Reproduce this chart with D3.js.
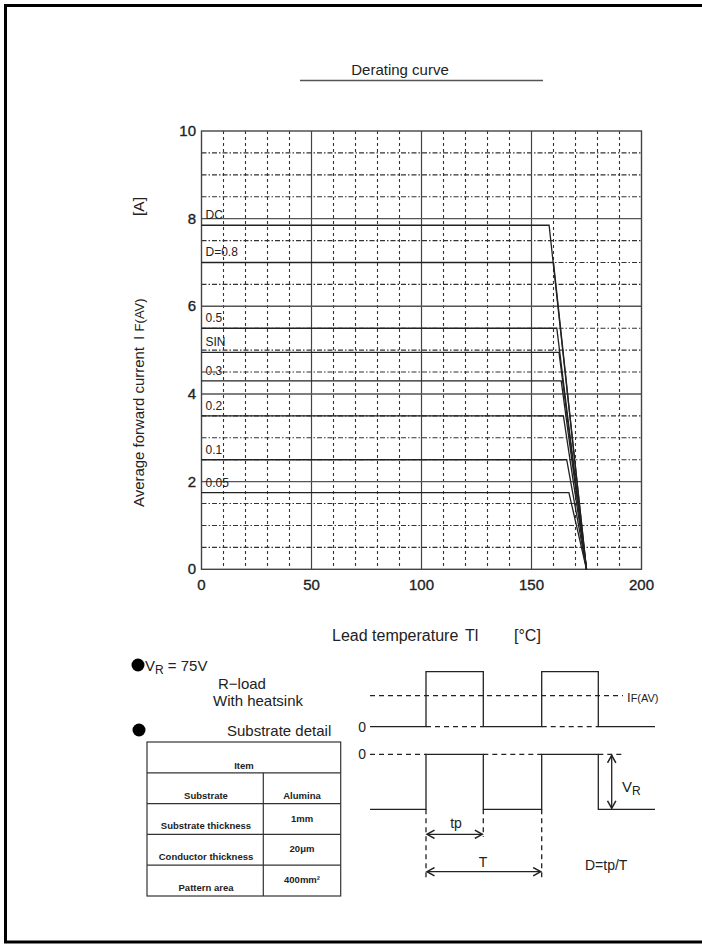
<!DOCTYPE html>
<html>
<head>
<meta charset="utf-8">
<script src="https://cdn.jsdelivr.net/npm/d3@7"></script>
<style>
    body { margin: 0; background: #fff; }
    svg { display: block; font-family: "Liberation Sans", Arial, sans-serif; }
</style>
</head>
<body>
<div id="chart"></div>
<script>
    // curve data
    const curveNames = ["DC", "D=0.8", "0.5", "SIN", "0.3", "0.2", "0.1", "0.05"];
    const flatCurrent = [7.85, 7.0, 5.5, 4.95, 4.3, 3.5, 2.5, 1.75];
    const kneeTemp = [158, 160, 161.5, 162.5, 163.5, 164.5, 166, 167];
    const zeroTemp = 175;

    const xTicks = [0, 50, 100, 150, 200];
    const yTicks = [0, 2, 4, 6, 8, 10];
    const xMinor = d3.range(10, 200, 10).filter((v) => v % 50 != 0);
    const yMinor = d3.range(0.5, 10, 0.5).filter((v) => v % 2 != 0);
    const xMajor = [50, 100, 150];
    const yMajor = [2, 4, 6, 8];

    const tableRows = [
        ["Substrate", "Alumina"],
        ["Substrate thickness", "1mm"],
        ["Conductor thickness", "20\u03bcm"],
        ["Pattern area", "400mm\u00b2"],
    ];

    const width = 702;
    const height = 944;

    const svg = d3.select("#chart").append("svg").attr("width", width).attr("height", height);

    // outer page frame
    svg.append("rect")
        .attr("x", 5.5).attr("y", 5.5)
        .attr("width", 720).attr("height", 936.5)
        .attr("fill", "none").attr("stroke", "#000").attr("stroke-width", 3);

    // title
    svg.append("text").attr("x", 400).attr("y", 75).attr("text-anchor", "middle")
        .attr("font-size", 15).attr("fill", "#222").text("Derating curve");
    svg.append("line").attr("x1", 300).attr("x2", 543).attr("y1", 80.5).attr("y2", 80.5)
        .attr("stroke", "#555").attr("stroke-width", 1.5);

    const x = d3.scaleLinear().domain([0, 200]).range([201.5, 641.5]);
    const y = d3.scaleLinear().domain([0, 10]).range([569.3, 131]);

    const grid = svg.append("g");

    // minor grid
    grid.selectAll(".vminor").data(xMinor).join("line")
        .attr("x1", (d) => x(d)).attr("x2", (d) => x(d))
        .attr("y1", y(10)).attr("y2", y(0))
        .attr("stroke", "#333").attr("stroke-width", 1.1)
        .attr("stroke-dasharray", "3,3");
    grid.selectAll(".hminor").data(yMinor).join("line")
        .attr("x1", x(0)).attr("x2", x(200))
        .attr("y1", (d) => y(d)).attr("y2", (d) => y(d))
        .attr("stroke", "#333").attr("stroke-width", 1.1)
        .attr("stroke-dasharray", "5,2,1.5,2");

    // major grid
    grid.selectAll(".vmajor").data(xMajor).join("line")
        .attr("x1", (d) => x(d)).attr("x2", (d) => x(d))
        .attr("y1", y(10)).attr("y2", y(0))
        .attr("stroke", "#444").attr("stroke-width", 1.2);
    grid.selectAll(".hmajor").data(yMajor).join("line")
        .attr("x1", x(0)).attr("x2", x(200))
        .attr("y1", (d) => y(d)).attr("y2", (d) => y(d))
        .attr("stroke", "#555").attr("stroke-width", 1.4);

    grid.append("rect")
        .attr("x", x(0)).attr("y", y(10))
        .attr("width", x(200) - x(0)).attr("height", y(0) - y(10))
        .attr("fill", "none").attr("stroke", "#444").attr("stroke-width", 1.4);

    // curves
    const line = d3.line().x((d) => x(d[0])).y((d) => y(d[1]));
    const curves = curveNames.map((name, i) => ({
        name: name,
        points: [[0, flatCurrent[i]], [kneeTemp[i], flatCurrent[i]], [zeroTemp, 0]],
    }));

    svg.append("g").selectAll("path").data(curves).join("path")
        .attr("d", (d) => line(d.points))
        .attr("fill", "none").attr("stroke", "#222").attr("stroke-width", 1.3);

    svg.append("g").selectAll("text").data(curves).join("text")
        .attr("x", x(0) + 4).attr("y", (d) => y(d.points[0][1]) - 6)
        .attr("font-size", 12).attr("fill", "#222")
        .text((d) => d.name);

    // tick labels
    svg.append("g").attr("stroke", "#222").attr("stroke-width", 0.35)
        .selectAll("text").data(yTicks).join("text")
        .attr("x", 196).attr("y", (d) => y(d) + 5)
        .attr("text-anchor", "end").attr("font-size", 15).attr("fill", "#222")
        .text((d) => d);
    svg.append("g").attr("stroke", "#222").attr("stroke-width", 0.35)
        .selectAll("text").data(xTicks).join("text")
        .attr("x", (d) => x(d)).attr("y", 590)
        .attr("text-anchor", "middle").attr("font-size", 15).attr("fill", "#222")
        .text((d) => d);

    // axis titles
    const xTitle = svg.append("g").attr("font-size", 16).attr("fill", "#222");
    xTitle.append("text").attr("x", 332).attr("y", 641).text("Lead temperature");
    xTitle.append("text").attr("x", 465).attr("y", 641).text("Tl");
    xTitle.append("text").attr("x", 514).attr("y", 641).text("[\u00b0C]");

    const yTitle = svg.append("g").attr("font-size", 15.5).attr("fill", "#222")
        .attr("transform", "translate(144,0) rotate(-90)");
    yTitle.append("text").attr("x", -507).attr("y", 0)
        .attr("textLength", 160).attr("lengthAdjust", "spacingAndGlyphs")
        .text("Average forward current");
    const ifav = yTitle.append("text").attr("x", -340).attr("y", 0);
    ifav.append("tspan").text("I ");
    ifav.append("tspan").attr("font-size", 13).text("F(AV)");
    yTitle.append("text").attr("x", -216).attr("y", 0).text("[A]");

    // conditions
    const notes = svg.append("g").attr("font-size", 15).attr("fill", "#222");
    notes.append("circle").attr("cx", 138).attr("cy", 665).attr("r", 6.5).attr("fill", "#000");
    const vr = notes.append("text").attr("x", 145).attr("y", 671);
    vr.append("tspan").text("V");
    vr.append("tspan").attr("font-size", 12).attr("dy", 3).text("R");
    vr.append("tspan").attr("dy", -3).text(" = 75V");
    notes.append("text").attr("x", 218).attr("y", 689).text("R\u2212load");
    notes.append("text").attr("x", 213).attr("y", 706).text("With heatsink");
    notes.append("circle").attr("cx", 139).attr("cy", 730).attr("r", 6.5).attr("fill", "#000");
    notes.append("text").attr("x", 227).attr("y", 736).text("Substrate detail");

    // substrate table
    const tbl = svg.append("g").attr("font-size", 9.5).attr("font-weight", "bold").attr("fill", "#222");
    const tLeft = 147, tRight = 340.7, tMid = 263.3, tTop = 742, rowH = 30.8;
    tbl.append("rect").attr("x", tLeft).attr("y", tTop)
        .attr("width", tRight - tLeft).attr("height", rowH * 5)
        .attr("fill", "none").attr("stroke", "#333").attr("stroke-width", 1.2);
    tbl.selectAll(".rowline").data(tableRows).join("line")
        .attr("x1", tLeft).attr("x2", tRight)
        .attr("y1", (d, i) => tTop + rowH * (i + 1)).attr("y2", (d, i) => tTop + rowH * (i + 1))
        .attr("stroke", "#333").attr("stroke-width", 1.2);
    tbl.append("line").attr("x1", tMid).attr("x2", tMid)
        .attr("y1", tTop + rowH).attr("y2", tTop + rowH * 5)
        .attr("stroke", "#333").attr("stroke-width", 1.2);
    tbl.append("text").attr("x", 244).attr("y", tTop + 27).attr("text-anchor", "middle")
        .text("Item");
    tbl.selectAll(".left").data(tableRows).join("text")
        .attr("x", 206).attr("y", (d, i) => tTop + rowH * (i + 2) - 5)
        .attr("text-anchor", "middle").text((d) => d[0]);
    tbl.selectAll(".right").data(tableRows).join("text")
        .attr("x", 302).attr("y", (d, i) => (i == 0 ? tTop + rowH * 2 - 5 : tTop + rowH * (i + 1) + 18))
        .attr("text-anchor", "middle").text((d) => d[1]);

    // waveform sketch
    const wave = svg.append("g").attr("fill", "none").attr("stroke", "#222").attr("stroke-width", 1.3);
    const defs = svg.append("defs");
    defs.append("marker").attr("id", "arr").attr("viewBox", "-10 -6 12 12")
        .attr("markerWidth", 10).attr("markerHeight", 10).attr("orient", "auto-start-reverse")
        .attr("markerUnits", "userSpaceOnUse")
        .append("path").attr("d", "M-9,-5 L0,0 L-9,5")
        .attr("fill", "none").attr("stroke", "#222").attr("stroke-width", 1.8);

    const wx = [370, 426, 483.3, 541.7, 598.3, 655];
    const upHigh = 671.7, upBase = 726.7, avgY = 695.7;
    const loHigh = 754.3, loBase = 809.3;
    const dashed = "5,4";

    wave.append("path").attr("d",
        `M${wx[0]},${upBase} H${wx[1]} V${upHigh} H${wx[2]} V${upBase} H${wx[3]} V${upHigh} H${wx[4]} V${upBase} H${wx[5]}`);
    wave.append("line").attr("x1", wx[1]).attr("x2", wx[2]).attr("y1", upBase).attr("y2", upBase).attr("stroke-dasharray", dashed);
    wave.append("line").attr("x1", wx[3]).attr("x2", wx[4]).attr("y1", upBase).attr("y2", upBase).attr("stroke-dasharray", dashed);
    wave.append("line").attr("x1", wx[0]).attr("x2", 623).attr("y1", avgY).attr("y2", avgY).attr("stroke-dasharray", dashed);

    wave.append("path").attr("d",
        `M${wx[0]},${loBase} H${wx[1]} V${loHigh} H${wx[2]} V${loBase} H${wx[3]} V${loHigh} H${wx[4]} V${loBase} H${wx[5]}`);
    wave.append("line").attr("x1", wx[0]).attr("x2", wx[1]).attr("y1", loHigh).attr("y2", loHigh).attr("stroke-dasharray", dashed);
    wave.append("line").attr("x1", wx[2]).attr("x2", wx[3]).attr("y1", loHigh).attr("y2", loHigh).attr("stroke-dasharray", dashed);
    wave.append("line").attr("x1", wx[4]).attr("x2", 625).attr("y1", loHigh).attr("y2", loHigh).attr("stroke-dasharray", dashed);

    wave.append("line").attr("x1", wx[1]).attr("x2", wx[1]).attr("y1", loBase).attr("y2", 880).attr("stroke-dasharray", dashed);
    wave.append("line").attr("x1", wx[2]).attr("x2", wx[2]).attr("y1", loBase).attr("y2", 837).attr("stroke-dasharray", dashed);
    wave.append("line").attr("x1", wx[3]).attr("x2", wx[3]).attr("y1", loBase).attr("y2", 880).attr("stroke-dasharray", dashed);

    // arrows
    wave.append("line").attr("x1", 611.7).attr("x2", 611.7).attr("y1", loHigh + 1).attr("y2", loBase - 1)
        .attr("marker-start", "url(#arr)").attr("marker-end", "url(#arr)");
    wave.append("line").attr("x1", wx[1] + 1).attr("x2", wx[2] - 1).attr("y1", 834.3).attr("y2", 834.3)
        .attr("marker-start", "url(#arr)").attr("marker-end", "url(#arr)");
    wave.append("line").attr("x1", wx[1] + 1).attr("x2", wx[3] - 1).attr("y1", 871.7).attr("y2", 871.7)
        .attr("marker-start", "url(#arr)").attr("marker-end", "url(#arr)");

    const wl = svg.append("g").attr("font-size", 14).attr("fill", "#222");
    wl.append("text").attr("x", 366).attr("y", upBase + 5).attr("text-anchor", "end").text("0");
    wl.append("text").attr("x", 366).attr("y", loHigh + 5).attr("text-anchor", "end").text("0");
    const ifl = wl.append("text").attr("x", 627).attr("y", 702).attr("font-size", 13);
    ifl.append("tspan").text("I");
    ifl.append("tspan").attr("font-size", 11).text("F(AV)");
    const vrl = wl.append("text").attr("x", 622).attr("y", 792).attr("font-size", 15);
    vrl.append("tspan").text("V");
    vrl.append("tspan").attr("font-size", 12).attr("dy", 3).text("R");
    wl.append("text").attr("x", 456).attr("y", 828).attr("text-anchor", "middle").text("tp");
    wl.append("text").attr("x", 483).attr("y", 867).attr("text-anchor", "middle").text("T");
    wl.append("text").attr("x", 585).attr("y", 870).text("D=tp/T");
</script>
</body>
</html>
